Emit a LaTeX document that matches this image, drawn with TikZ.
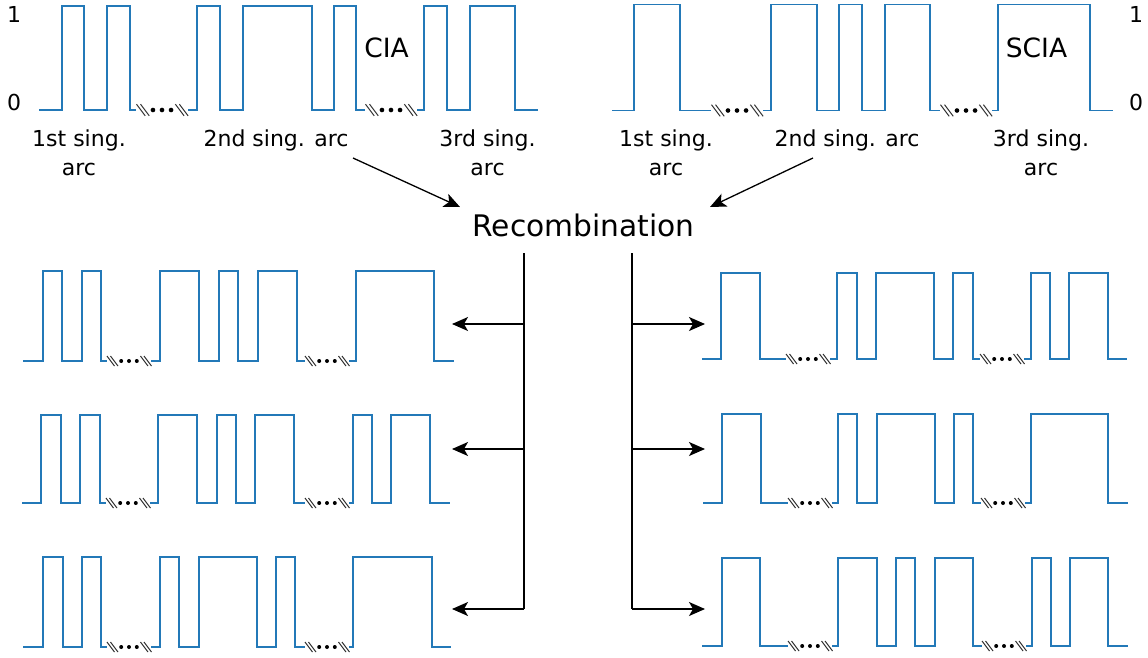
\documentclass[tikz,border=0pt]{standalone}
\usepackage{fontspec}
\setmainfont{DejaVu Sans}
\usetikzlibrary{arrows.meta}
\definecolor{wavec}{HTML}{2379B8}
\definecolor{slashc}{HTML}{333333}
\newcommand\sigwave[5]{%
  \draw[wave] (#3,#1) \foreach \xa/\xb in {#4}{ -- (\xa,#1) -- (\xa,#2) -- (\xb,#2) -- (\xb,#1)} -- (#5,#1);}
\begin{document}
\begin{tikzpicture}[x=1pt,y=-1pt,
  wave/.style={draw=wavec,line width=1.15pt,line join=miter},
  conn/.style={line width=1.3pt,draw=black},
  arr/.style={conn,-{Stealth[length=16pt,width=14pt,inset=4pt]}},
  lbl/.style={font=\fontsize{22}{26}\selectfont,anchor=base,inner sep=0pt},
  ttl/.style={font=\fontsize{26.5}{30}\selectfont,anchor=base,inner sep=0pt},
  brk/.pic={
    \fill[white] (-22,-7) rectangle (22,7);
    \foreach \s in {-16.5,17}{
      \draw[slashc,line width=1pt] (\s-5.5,-5) -- (\s+2,5);
      \draw[slashc,line width=1pt] (\s-2,-5) -- (\s+5.5,5);
    }
    \foreach \d in {-7.8,0,7.8} \fill[black] (\d,0) circle (2);
  }]
\useasboundingbox (0,0) rectangle (1148,657);

% ---------- top CIA ----------
\sigwave{110}{6}{39}{62/84,107/130,197/220,243/312,334/356,424/447,470/515}{538}
\pic[scale=1.16] at (162,110) {brk};
\pic[scale=1.16] at (391,110) {brk};
\node[lbl] (one1) at (14,22) {1};
\node[lbl] (zero1) at (14,110) {0};
\node[ttl] (cia) at (386.5,57.5) {CIA};
\node[lbl] (c1a) at (79,146) {1st sing.};
\node[lbl] (c1b) at (79,175) {arc};
\node[lbl] (c2) at (276,146) {2nd sing. arc};
\node[lbl] (c3a) at (487.5,146) {3rd sing.};
\node[lbl] (c3b) at (487.5,175) {arc};

% ---------- top SCIA ----------
\sigwave{110.5}{4.5}{612}{634/680,771/817,839/862,885/930,998/1090}{1113}
\pic[scale=1.16] at (737,110.5) {brk};
\pic[scale=1.16] at (966,110.5) {brk};
\node[lbl] (one2) at (1136,22) {1};
\node[lbl] (zero2) at (1136,110) {0};
\node[ttl] (scia) at (1036.5,57.5) {SCIA};
\node[lbl] (s1a) at (666,146) {1st sing.};
\node[lbl] (s1b) at (666,175) {arc};
\node[lbl] (s2) at (847,146) {2nd sing. arc};
\node[lbl] (s3a) at (1041,146) {3rd sing.};
\node[lbl] (s3b) at (1041,175) {arc};

% ---------- Recombination ----------
\node[font=\fontsize{29.7}{34}\selectfont,anchor=base,inner sep=0pt] (rec) at (583.5,236) {Recombination};

\coordinate (ca) at (353,158);
\coordinate (cb) at (460,207);
\coordinate (sa) at (813,158);
\coordinate (sb) at (710,207);
\draw[arr] (ca) -- (cb);
\draw[arr] (sa) -- (sb);

% ---------- distribution lines ----------
\coordinate (vl0) at (524,253);
\coordinate (vl1) at (524,324);
\coordinate (vl2) at (524,449);
\coordinate (vl3) at (524,609);
\coordinate (vr0) at (632,253);
\coordinate (vr1) at (632,324);
\coordinate (vr2) at (632,449);
\coordinate (vr3) at (632,609);
\coordinate (tl1) at (452,324);
\coordinate (tl2) at (452,449);
\coordinate (tl3) at (452,609);
\coordinate (tr1) at (705,324);
\coordinate (tr2) at (705,449);
\coordinate (tr3) at (705,609);
\draw[conn] (vl0) -- (vl3);
\draw[conn] (vr0) -- (vr3);
\foreach \i in {1,2,3}{
  \draw[arr] (vl\i) -- (tl\i);
  \draw[arr] (vr\i) -- (tr\i);
}

% ---------- offspring left ----------
\sigwave{361}{271}{23}{43/62,82/101,160/199,219/238,258/297,356/434}{454}
\pic at (129,361) {brk};
\pic at (327,361) {brk};
\sigwave{503}{415}{22}{41/61,80/100,158/197,217/236,255/294,353/372,391/430}{450}
\pic at (128,503) {brk};
\pic at (327,503) {brk};
\sigwave{647}{557}{23}{43/63,82/101,160/179,199/257,276/295,353/432}{451}
\pic at (129,647) {brk};
\pic at (327,647) {brk};

% ---------- offspring right ----------
\sigwave{359}{273}{702}{721/760,837/857,876/934,953/973,1031/1050,1069/1108}{1127}
\pic at (808,359) {brk};
\pic at (1002,359) {brk};
\sigwave{503}{414}{703}{722/761,838/857,877/935,954/973,1031/1108}{1128}
\pic at (810,503) {brk};
\pic at (1003,503) {brk};
\sigwave{646}{558}{702}{722/760,838/877,896/915,935/973,1032/1051,1070/1108}{1128}
\pic at (810,646) {brk};
\pic at (1004,646) {brk};
\end{tikzpicture}
\end{document}
